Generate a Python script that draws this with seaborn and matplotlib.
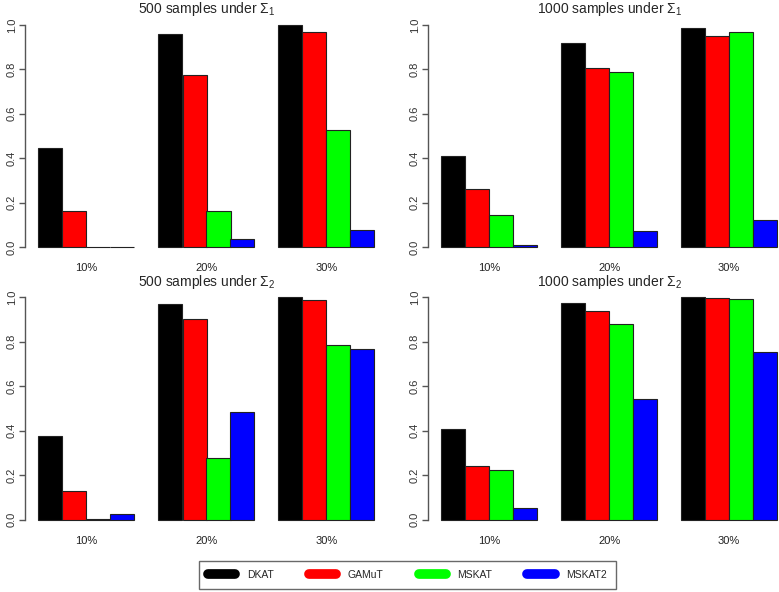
import numpy as np
import pandas as pd
import matplotlib
matplotlib.use("Agg")
import matplotlib.pyplot as plt
from matplotlib.lines import Line2D
import seaborn as sns

# power values, one row per method, one column per rate
methods = ['DKAT', 'GAMuT', 'MSKAT', 'MSKAT2']
rates = ['10%', '20%', '30%']
colors = ['#000000', '#FF0000', '#00FF00', '#0000FF']

n500_sigma1 = [[0.444, 0.958, 1.000],
               [0.164, 0.773, 0.970],
               [0.001, 0.162, 0.529],
               [0.002, 0.035, 0.078]]
n1000_sigma1 = [[0.408, 0.917, 0.986],
                [0.260, 0.808, 0.950],
                [0.144, 0.787, 0.970],
                [0.011, 0.072, 0.120]]
n500_sigma2 = [[0.376, 0.969, 1.000],
               [0.129, 0.903, 0.988],
               [0.005, 0.276, 0.786],
               [0.027, 0.486, 0.766]]
n1000_sigma2 = [[0.406, 0.973, 1.000],
                [0.240, 0.937, 0.996],
                [0.225, 0.882, 0.993],
                [0.051, 0.544, 0.756]]

titles = ['500 samples under $\\Sigma_1$', '1000 samples under $\\Sigma_1$',
          '500 samples under $\\Sigma_2$', '1000 samples under $\\Sigma_2$']


def to_long(vals):
    rows = []
    for m, row in zip(methods, vals):
        for r, v in zip(rates, row):
            rows.append({'rate': r, 'method': m, 'power': v})
    return pd.DataFrame(rows)


sns.set_style('white')
plt.rcParams['font.family'] = ['Liberation Sans', 'DejaVu Sans']
plt.rcParams['mathtext.fontset'] = 'custom'
plt.rcParams['mathtext.rm'] = 'Liberation Sans'
plt.rcParams['mathtext.it'] = 'Liberation Sans:italic'

fig = plt.figure(figsize=(7.79, 5.92), dpi=100)
W, H = 779, 592
# axes boxes in pixels: left, top, right, bottom
boxes = [(25, 16.1, 388, 255.9), (428, 16.1, 790.6, 255.9),
         (25, 288.4, 388, 528.6), (428, 288.4, 790.6, 528.6)]
panels = [n500_sigma1, n1000_sigma1, n500_sigma2, n1000_sigma2]

for (l, t, r, b), vals, title in zip(boxes, panels, titles):
    ax = fig.add_axes([l / W, 1 - b / H, (r - l) / W, (b - t) / H])
    sns.barplot(data=to_long(vals), x='rate', y='power', hue='method',
                order=rates, hue_order=methods, palette=colors, saturation=1,
                width=0.8, edgecolor='#222222', linewidth=0.8, legend=False, ax=ax)
    ax.set_xlim(-0.5125, 2.5125)
    ax.set_ylim(-0.04, 1.04)
    ax.set_xlabel('')
    ax.set_ylabel('')
    for s in ['top', 'right', 'bottom']:
        ax.spines[s].set_visible(False)
    ax.spines['left'].set_bounds(0, 1)
    ax.spines['left'].set_color('#555555')
    ax.spines['left'].set_linewidth(1)
    ax.set_yticks([0, 0.2, 0.4, 0.6, 0.8, 1.0])
    ax.set_yticklabels(['0.0', '0.2', '0.4', '0.6', '0.8', '1.0'],
                       rotation=90, va='center', fontsize=8, color='#333333')
    ax.tick_params(axis='y', length=4, width=1, color='#555555', pad=2, left=True)
    ax.tick_params(axis='x', length=0, pad=5, labelsize=8, labelcolor='#222222')
    ax.set_title(title, fontsize=10, pad=2)
    ax.set_facecolor('white')

handles = [Line2D([0], [0], color=c, lw=7, solid_capstyle='round') for c in colors]
leg = fig.legend(handles, methods, loc='center', bbox_to_anchor=(0.5231, 1 - 575 / H),
                 ncol=4, fontsize=7.5, frameon=True, fancybox=False,
                 handlelength=2.6, handletextpad=1.1, columnspacing=3.4,
                 borderpad=0.85, edgecolor='#444444')
leg.get_frame().set_linewidth(1)

fig.savefig('out.png', dpi=100)
